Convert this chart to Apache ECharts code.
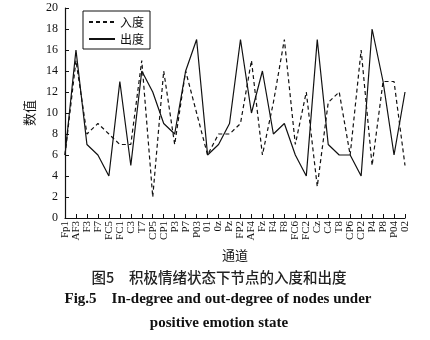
<!DOCTYPE html>
<html>
<head>
<meta charset="utf-8">
<script src="https://cdn.jsdelivr.net/npm/echarts@6/dist/echarts.min.js"></script>
<style>
  html, body { margin: 0; padding: 0; background: #fff; }
  #chart { width: 430px; height: 340px; }
</style>
</head>
<body>
<div id="chart"></div>
<script>
// EEG channels along the x axis
const channels = ['Fp1', 'AF3', 'F3', 'F7', 'FC5', 'FC1', 'C3', 'T7', 'CP5', 'CP1', 'P3', 'P7', 'P03', '01', '0z', 'Pz',
  'FP2', 'AF4', 'Fz', 'F4', 'F8', 'FC6', 'FC2', 'Cz', 'C4', 'T8', 'CP6', 'CP2', 'P4', 'P8', 'P04', '02'];
// In-degree of each node
const inDegree = [6, 15, 8, 9, 8, 7, 7, 15, 2, 14, 7, 14, 10, 6, 8, 8,
  9, 15, 6, 11, 17, 7, 12, 3, 11, 12, 6, 16, 5, 13, 13, 5];
// Out-degree of each node
const outDegree = [6, 16, 7, 6, 4, 13, 5, 14, 12, 9, 8, 14, 17, 6, 7, 9,
  17, 10, 14, 8, 9, 6, 4, 17, 7, 6, 6, 4, 18, 13, 6, 12];
const seriesNames = ['入度', '出度'];
const yTicks = { min: 0, max: 20, step: 2 };

const serif = '"Liberation Serif", "Times New Roman", serif';
const cjk = '"Noto Sans CJK SC", "Liberation Serif", serif';
const ink = '#111';

const chart = echarts.init(document.getElementById('chart'), null, { renderer: 'canvas' });
chart.setOption({
  animation: false,
  backgroundColor: '#fff',
  grid: { left: 65, right: 25, top: 8, bottom: 122 },
  legend: {
    orient: 'vertical',
    left: 83,
    top: 11,
    padding: [5, 6, 4, 5],
    itemGap: 5,
    itemWidth: 26,
    itemHeight: 11,
    borderColor: ink,
    borderWidth: 1,
    borderRadius: 0,
    itemStyle: { opacity: 0 },
    textStyle: { fontFamily: cjk, fontSize: 12, color: ink },
    data: seriesNames
  },
  xAxis: {
    type: 'category',
    data: channels,
    boundaryGap: false,
    name: '通道',
    nameLocation: 'middle',
    nameGap: 27,
    nameTextStyle: { fontFamily: cjk, fontSize: 13, color: ink },
    axisLine: { lineStyle: { color: ink, width: 1.2 } },
    axisTick: { inside: true, length: 4, alignWithLabel: true, interval: 0, lineStyle: { color: ink } },
    axisLabel: { interval: 0, rotate: 90, margin: 3, fontFamily: serif, fontSize: 11, color: ink },
    splitLine: { show: false }
  },
  yAxis: {
    type: 'value',
    min: yTicks.min,
    max: yTicks.max,
    interval: yTicks.step,
    name: '数值',
    nameLocation: 'middle',
    nameGap: 23,
    nameTextStyle: { fontFamily: cjk, fontSize: 13, color: ink },
    axisLine: { show: true, lineStyle: { color: ink, width: 1.2 } },
    axisTick: { show: true, inside: true, length: 4, lineStyle: { color: ink } },
    axisLabel: { margin: 7, fontFamily: serif, fontSize: 12, color: ink },
    splitLine: { show: false }
  },
  series: [
    {
      name: seriesNames[0],
      type: 'line',
      data: inDegree,
      symbol: 'none',
      lineStyle: { color: ink, width: 1.2, type: [4, 3] },
      itemStyle: { color: ink }
    },
    {
      name: seriesNames[1],
      type: 'line',
      data: outDegree,
      symbol: 'none',
      lineStyle: { color: ink, width: 1.2, type: 'solid' },
      itemStyle: { color: ink }
    }
  ],
  graphic: [
    {
      type: 'text', x: 219, y: 277,
      style: { text: '图5　积极情绪状态下节点的入度和出度', font: '500 14.5px ' + cjk, fill: '#222',
        textAlign: 'center', textVerticalAlign: 'middle' }
    },
    {
      type: 'text', x: 218, y: 299,
      style: { text: 'Fig.5    In-degree and out-degree of nodes under', font: 'bold 15px ' + serif, fill: '#111',
        textAlign: 'center', textVerticalAlign: 'middle' }
    },
    {
      type: 'text', x: 219, y: 323,
      style: { text: 'positive emotion state', font: 'bold 15px ' + serif, fill: '#111',
        textAlign: 'center', textVerticalAlign: 'middle' }
    }
  ]
});
</script>
</body>
</html>
